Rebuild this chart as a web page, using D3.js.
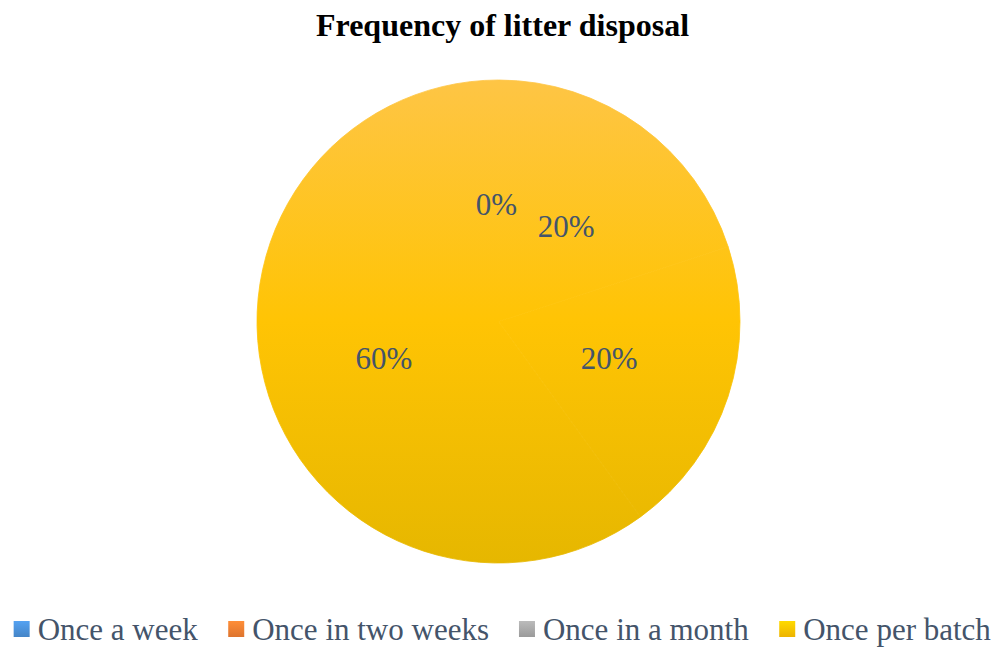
<!DOCTYPE html>
<html>
<head>
<meta charset="utf-8">
<script src="https://cdn.jsdelivr.net/npm/d3@7"></script>
<style>
  html, body { margin: 0; padding: 0; background: #ffffff; }
  svg { display: block; }
</style>
</head>
<body>
<svg id="chart" width="1005" height="648"></svg>
<script>
// Survey answers: how often the litter is disposed of
const categories = ["Once a week", "Once in two weeks", "Once in a month", "Once per batch"];
const shares = [0, 20, 20, 60];
const shareLabels = ["0%", "20%", "20%", "60%"];
const legendColors = ["#4a8fd6", "#ed7d31", "#a5a5a5", "#ffc000"];
const title = "Frequency of litter disposal";

const width = 1005, height = 648;
const cx = 498.5, cy = 321.5, radius = 241.5;
const serif = '"Liberation Serif", "Times New Roman", serif';
const labelColor = "#44546a";

const svg = d3.select("#chart");
const defs = svg.append("defs");

// Vertical gold gradient spanning the full disc
const pieGrad = defs.append("linearGradient")
  .attr("id", "pieFill").attr("gradientUnits", "userSpaceOnUse")
  .attr("x1", 0).attr("y1", -radius).attr("x2", 0).attr("y2", radius);
pieGrad.append("stop").attr("offset", "0%").attr("stop-color", "#fec545");
pieGrad.append("stop").attr("offset", "50%").attr("stop-color", "#ffc404");
pieGrad.append("stop").attr("offset", "100%").attr("stop-color", "#e6b700");

// Small gradients for the legend swatches
legendColors.forEach((c, i) => {
  const g = defs.append("linearGradient")
    .attr("id", "sw" + i).attr("x1", 0).attr("y1", 0).attr("x2", 0).attr("y2", 1);
  g.append("stop").attr("offset", "0%").attr("stop-color", d3.color(c).brighter(0.35));
  g.append("stop").attr("offset", "100%").attr("stop-color", d3.color(c).darker(0.2));
});

// Title
svg.append("text")
  .attr("x", width / 2).attr("y", 36)
  .attr("text-anchor", "middle")
  .style("font-family", serif).style("font-weight", "bold").style("font-size", "32px")
  .attr("fill", "#000")
  .text(title);

// Pie
const data = categories.map((c, i) => ({ name: c, value: shares[i], label: shareLabels[i] }));
const pie = d3.pie().value(d => d.value).sort(null).startAngle(0).endAngle(2 * Math.PI);
const arcs = pie(data);
const arc = d3.arc().innerRadius(0).outerRadius(radius);
const labelArc = d3.arc().innerRadius(radius * 0.49).outerRadius(radius * 0.49);

const g = svg.append("g").attr("transform", `translate(${cx},${cy})`);

// Slices share one gradient, so the disc reads as a single body
g.append("g").selectAll("path")
  .data(arcs)
  .join("path")
  .attr("d", arc)
  .attr("fill", "url(#pieFill)")
  .attr("stroke", "url(#pieFill)")
  .attr("stroke-width", 0.8);

// Percentage labels
g.append("g").selectAll("text")
  .data(arcs)
  .join("text")
  .attr("transform", d => {
    const [x, y] = labelArc.centroid(d);
    return `translate(${x - 2},${y - 1})`;
  })
  .attr("text-anchor", "middle")
  .attr("dy", "0.4em")
  .style("font-family", serif).style("font-size", "31px")
  .attr("fill", labelColor)
  .text(d => d.data.label);

// Legend, centred under the pie
const legend = svg.append("g");
const sw = 16, gapText = 8, gapItem = 30, legY = 629;
const items = legend.selectAll("g").data(categories).join("g");
items.append("rect")
  .attr("width", sw).attr("height", sw)
  .attr("fill", (d, i) => `url(#sw${i})`);
items.append("text")
  .attr("x", sw + gapText).attr("y", sw / 2).attr("dy", "0.35em")
  .style("font-family", serif).style("font-size", "31px")
  .attr("fill", labelColor)
  .text(d => d);

const widths = [];
items.each(function () { widths.push(this.getBBox().width); });
const total = d3.sum(widths) + gapItem * (widths.length - 1);
let x = (width - total) / 2;
items.each(function (d, i) {
  d3.select(this).attr("transform", `translate(${x},${legY - sw / 2})`);
  x += widths[i] + gapItem;
});
</script>
</body>
</html>
